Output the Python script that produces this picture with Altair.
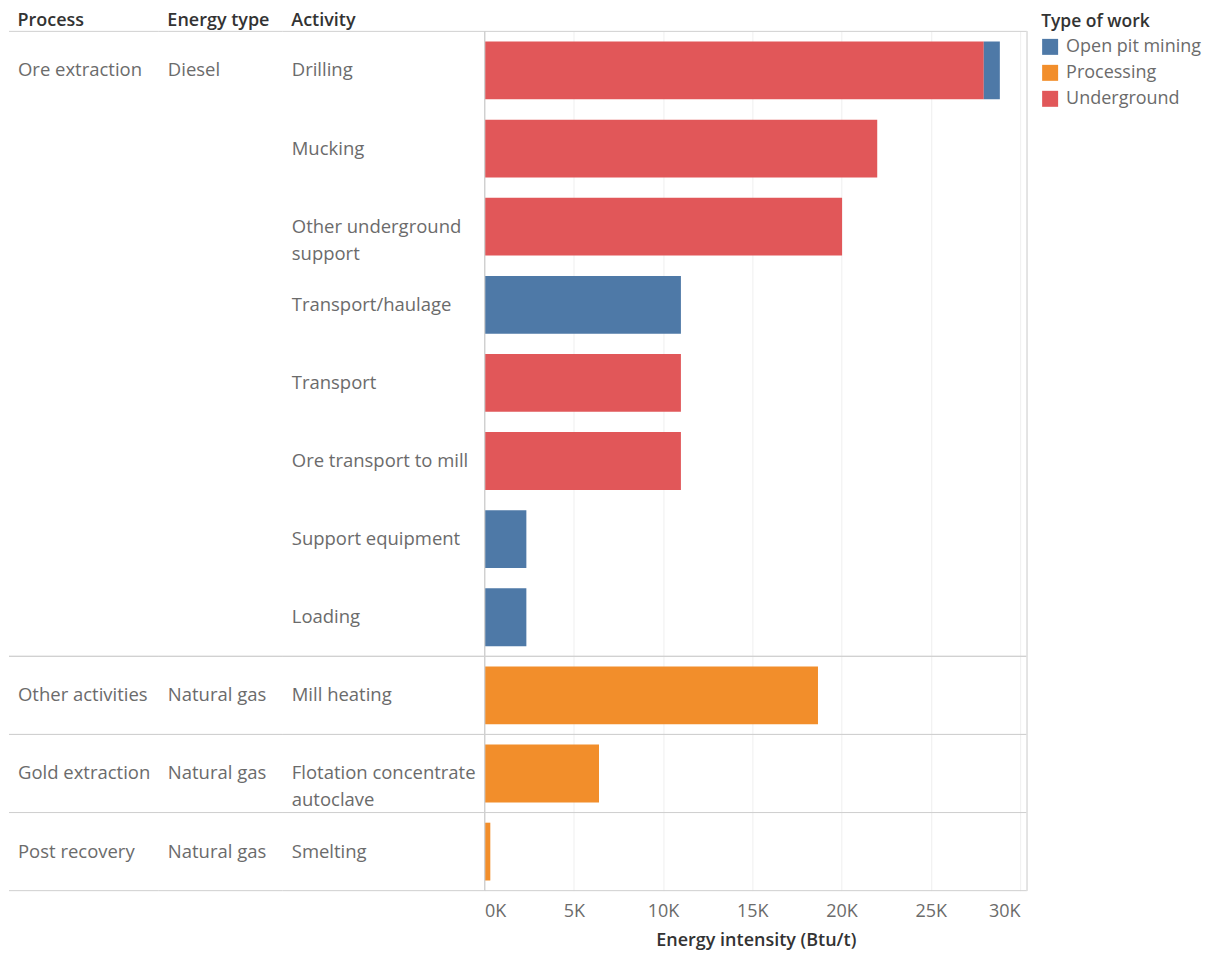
import altair as alt
import pandas as pd

# ---- data ----
activities = ["Drilling", "Mucking", "Other underground support", "Transport/haulage",
              "Transport", "Ore transport to mill", "Support equipment", "Loading",
              "Mill heating", "Flotation concentrate autoclave", "Smelting"]
activity_labels = ["Drilling", "Mucking", "Other underground\nsupport", "Transport/haulage",
                   "Transport", "Ore transport to mill", "Support equipment", "Loading",
                   "Mill heating", "Flotation concentrate\nautoclave", "Smelting"]

processes = ["Ore extraction", "Other activities", "Gold extraction", "Post recovery"]
energy_types = ["Diesel", "Natural gas", "Natural gas", "Natural gas"]
group_first = ["Drilling", "Mill heating", "Flotation concentrate autoclave", "Smelting"]
group_last = ["Loading", "Mill heating", "Flotation concentrate autoclave", "Smelting"]

bar_activity = ["Drilling", "Drilling", "Mucking", "Other underground support",
                "Transport/haulage", "Transport", "Ore transport to mill",
                "Support equipment", "Loading", "Mill heating",
                "Flotation concentrate autoclave", "Smelting"]
bar_type = ["Underground", "Open pit mining", "Underground", "Underground",
            "Open pit mining", "Underground", "Underground",
            "Open pit mining", "Open pit mining", "Processing",
            "Processing", "Processing"]
bar_value = [27970, 900, 22000, 20030, 11000, 11000, 11000, 2340, 2340, 18680, 6410, 320]

x_ticks = [0, 5000, 10000, 15000, 20000, 25000, 30000]

work_types = ["Open pit mining", "Processing", "Underground"]
work_colors = ["#4e79a7", "#f28e2b", "#e15759"]

FONT = "Open Sans"
TXT = "#6b6b6b"
HEAD = "#333333"
LINE = "#d0d0d0"
FS = 18.5
HFS = 18
H = 860

bars_df = pd.DataFrame({"Activity": bar_activity, "Type of work": bar_type,
                        "Energy intensity": bar_value})
groups_df = pd.DataFrame({"Process": processes, "Energy": energy_types,
                          "First": group_first, "Last": group_last})
act_df = pd.DataFrame({"Activity": activities, "Label": activity_labels})

yscale = alt.Scale(domain=activities, paddingInner=0, paddingOuter=0, round=False)


def y_enc(field, band=0.5):
    return alt.Y(f"{field}:N", scale=yscale, axis=None, bandPosition=band, title=None)


def rules():
    top = alt.Chart(groups_df).mark_rule(color=LINE, strokeWidth=1).encode(y=y_enc("First", 0))
    bot = alt.Chart(groups_df).mark_rule(color=LINE, strokeWidth=1).encode(y=y_enc("Last", 1))
    return top + bot


def title(txt):
    return alt.Title(txt, anchor="start", dx=9, offset=1, fontSize=HFS, font=FONT,
                     fontWeight=600, color=HEAD)


def txt_mark(**kw):
    return dict(align="left", baseline="middle", fontSize=FS, font=FONT, color=TXT, **kw)


proc_text = alt.Chart(groups_df).mark_text(**txt_mark()).encode(
    x=alt.value(9), y=y_enc("First"), text="Process:N")
energy_text = alt.Chart(groups_df).mark_text(**txt_mark()).encode(
    x=alt.value(9), y=y_enc("First"), text="Energy:N")
act_text = alt.Chart(act_df).mark_text(**txt_mark(lineBreak="\n", lineHeight=27)).encode(
    x=alt.value(9), y=y_enc("Activity"), text="Label:N")

p1 = (rules() + proc_text).properties(width=150, height=H, title=title("Process"))
p2 = (rules() + energy_text).properties(width=124, height=H, title=title("Energy type"))
p3 = (rules() + act_text).properties(width=202, height=H, title=title("Activity"))

bars = alt.Chart(bars_df).mark_bar(height=alt.RelativeBandSize(0.74)).encode(
    x=alt.X("Energy intensity:Q", stack="zero",
            scale=alt.Scale(domain=[0, 30400], nice=False),
            axis=alt.Axis(values=x_ticks,
                          labelExpr="format(datum.value / 1000, 'd') + 'K'",
                          title="Energy intensity (Btu/t)", ticks=False, domain=False,
                          labelFlush=10, labelPadding=12, labelFontSize=18,
                          labelColor=TXT, labelFont=FONT, titleFont=FONT,
                          titleFontSize=HFS, titleFontWeight=600, titleColor=HEAD,
                          titlePadding=11, grid=True, gridColor="#efefef")),
    y=y_enc("Activity"),
    color=alt.Color("Type of work:N",
                    scale=alt.Scale(domain=work_types, range=work_colors),
                    legend=alt.Legend(title="Type of work", symbolType="square",
                                      symbolSize=256, symbolStrokeWidth=0,
                                      titleFont=FONT, titleFontSize=17.5,
                                      titleFontWeight=600, titleColor=HEAD,
                                      labelFont=FONT, labelFontSize=18, labelColor=TXT,
                                      rowPadding=8, titlePadding=7, padding=0,
                                      labelOffset=7, orient="none",
                                      legendX=1033, legendY=-18)),
    order=alt.Order("Type of work:N", sort="descending"),
)
left_line = alt.Chart(groups_df).mark_rule(color=LINE).encode(x=alt.value(0))
right_line = alt.Chart(groups_df).mark_rule(color="#e2e2e2").encode(x=alt.value(543))
p4 = (rules() + bars + left_line + right_line).properties(width=543, height=H,
                                                          title=title(" "))

chart = alt.hconcat(p1, p2, p3, p4, spacing=0, bounds="flush",
                    padding={"top": 3, "left": 0, "right": 0, "bottom": 0}).configure_view(
    stroke=None
).configure_concat(spacing=0)

chart.save("out.html", embed_options={"renderer": "svg", "actions": False})
